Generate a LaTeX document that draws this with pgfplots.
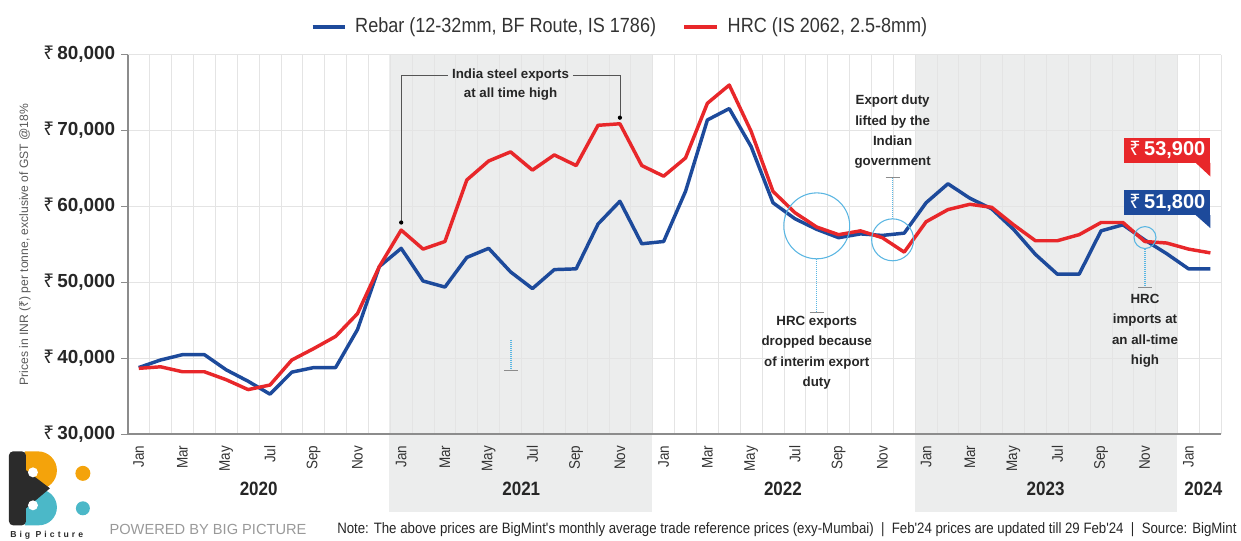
\documentclass[border=0pt]{standalone}
\usepackage{fontspec}
\setmainfont{Liberation Sans}
\newfontfamily\narrow[FakeStretch=0.88]{Liberation Sans}
\newfontfamily\rupeefont{Noto Sans}
\newcommand\Rs{{\rupeefont ₹}}
\usepackage{pgfplots}
\usepackage{pgfplotstable}
\pgfplotsset{compat=1.18}
\definecolor{rebar}{HTML}{1D4A9B}
\definecolor{hrc}{HTML}{E8272A}
\definecolor{band}{HTML}{ECEDED}
\definecolor{circ}{HTML}{5AB6E2}
\definecolor{gridc}{HTML}{E4E4E4}
\definecolor{axisc}{HTML}{8C8C8C}
\definecolor{annc}{HTML}{555555}
\definecolor{orangeL}{HTML}{F4A30B}
\definecolor{tealL}{HTML}{4BB8C8}
\definecolor{darkL}{HTML}{2B2B2B}

\pgfplotstableread{
x rebar hrc
0 38800 38700
1 39800 38900
2 40500 38250
3 40500 38250
4 38500 37200
5 37000 35900
6 35300 36500
7 38200 39800
8 38800 41300
9 38800 42900
10 43800 45900
11 52100 52100
12 54500 56900
13 50200 54400
14 49400 55400
15 53300 63500
16 54500 66000
17 51400 67200
18 49200 64800
19 51700 66800
20 51800 65400
21 57700 70700
22 60700 70900
23 55100 65400
24 55400 64000
25 62000 66400
26 71400 73600
27 72900 76000
28 67900 69900
29 60500 62000
30 58400 59200
31 57000 57300
32 55900 56300
33 56400 56800
34 56200 55900
35 56500 54000
36 60500 58000
37 63000 59600
38 61100 60300
39 59700 59900
40 57000 57600
41 53700 55500
42 51100 55500
43 51100 56300
44 56800 57900
45 57600 57900
46 55600 55400
47 53800 55200
48 51800 54400
49 51800 53900
}\datatable

\begin{document}
\begin{tikzpicture}
\begin{scope}[x=0.75pt,y=0.75pt]
\path[use as bounding box] (0,0) rectangle (1241,540);
\fill[band] (390,27) rectangle (653,485.3);
\fill[band] (915.8,27) rectangle (1178.6,485.3);
\end{scope}
\begin{axis}[
  at={(96pt,78.75pt)}, anchor=south west,
  scale only axis, width=821.25pt, height=285.2pt,
  xmin=-0.5, xmax=49.5, ymin=30000, ymax=80000,
  scaled y ticks=false,
  axis x line*=bottom, axis y line*=left,
  axis line style={axisc, line width=1.5pt},
  ytick={30000,40000,50000,60000,70000,80000},
  yticklabels={{\Rs\,30,000},{\Rs\,40,000},{\Rs\,50,000},{\Rs\,60,000},{\Rs\,70,000},{\Rs\,80,000}},
  yticklabel style={font=\fontsize{14.2}{16}\selectfont\bfseries, text=black!85, xshift=-1pt},
  ytick style={axisc, line width=1pt},
  tick align=outside, major tick length=5pt,
  ymajorgrids, grid style={gridc, line width=0.75pt},
  xtick={0,2,...,48},
  xticklabels={Jan,Mar,May,Jul,Sep,Nov,Jan,Mar,May,Jul,Sep,Nov,Jan,Mar,May,Jul,Sep,Nov,Jan,Mar,May,Jul,Sep,Nov,Jan},
  xticklabel style={rotate=90, anchor=east, font=\narrow\fontsize{11.5}{13}\selectfont, text=black!80},
  xtick style={draw=none},
  minor xtick={0.5,1.5,...,49.5}, xminorgrids,
  minor grid style={gridc, line width=0.6pt},
  minor tick length=0pt,
  clip=false,
]
\addplot[rebar, line width=2.6pt, line join=round] table[x=x,y=rebar]{\datatable};
\addplot[hrc, line width=2.6pt, line join=round] table[x=x,y=hrc]{\datatable};

% annotation 1
\draw[annc, line width=0.6pt] (axis cs:12,57900) -- (axis cs:12,77300) -- (axis cs:14.15,77300);
\draw[annc, line width=0.6pt] (axis cs:19.85,77300) -- (axis cs:22,77300) -- (axis cs:22,71700);
\fill[black] (axis cs:12,57900) circle[radius=1.6pt];
\fill[black] (axis cs:22,71700) circle[radius=1.6pt];
\node[font=\fontsize{10}{12}\selectfont\bfseries, text=black!85] at (axis cs:17,77300) {India steel exports};
\node[font=\fontsize{10}{12}\selectfont\bfseries, text=black!85] at (axis cs:17,74800) {at all time high};

\tikzset{dotl/.style={circ, line width=0.9pt, dash pattern=on 0.75pt off 0.75pt}}
% annotation 2
\draw[circ, line width=0.8pt] (axis cs:31,57460) circle[radius=24.75pt];
\draw[dotl] (axis cs:31,53100) -- (axis cs:31,46050);
\draw[axisc, line width=0.7pt] (axis cs:30.68,46050) -- (axis cs:31.32,46050);
\node[anchor=north, align=center, inner sep=0pt, font=\fontsize{10}{15.3}\selectfont\bfseries, text=black!85] at (axis cs:31,45600) {HRC exports\\dropped because\\of interim export\\duty};

% annotation 3
\draw[circ, line width=0.8pt] (axis cs:34.47,55620) circle[radius=15.75pt];
\draw[dotl] (axis cs:34.47,63780) -- (axis cs:34.47,58420);
\draw[axisc, line width=0.7pt] (axis cs:34.15,63780) -- (axis cs:34.79,63780);
\node[anchor=north, align=center, inner sep=0pt, font=\fontsize{10}{15.3}\selectfont\bfseries, text=black!85] at (axis cs:34.47,74700) {Export duty\\lifted by the\\Indian\\government};

% annotation 4
\draw[circ, line width=0.8pt] (axis cs:46.01,55920) circle[radius=8.25pt];
\draw[dotl] (axis cs:46.01,54440) -- (axis cs:46.01,49300);
\draw[axisc, line width=0.7pt] (axis cs:45.69,49300) -- (axis cs:46.33,49300);
\node[anchor=north, align=center, inner sep=0pt, font=\fontsize{10}{15.3}\selectfont\bfseries, text=black!85] at (axis cs:46.01,48500) {HRC\\imports at\\an all-time\\high};

% stray dotted mark
\draw[dotl] (axis cs:17.02,42460) -- (axis cs:17.02,38380);
\draw[axisc, line width=0.6pt] (axis cs:16.7,38380) -- (axis cs:17.34,38380);

% value boxes
\fill[hrc] (axis cs:45.05,69080) rectangle (axis cs:49.0,65710);
\fill[hrc] (axis cs:48.33,65750) -- (axis cs:49.0,65750) -- (axis cs:49.0,63950) -- cycle;
\node[text=white, font=\fontsize{15}{17}\selectfont\bfseries] at (axis cs:47.03,67400) {\Rs\,53,900};
\fill[rebar] (axis cs:45.05,62210) rectangle (axis cs:49.0,58830);
\fill[rebar] (axis cs:48.33,58870) -- (axis cs:49.0,58870) -- (axis cs:49.0,57160) -- cycle;
\node[text=white, font=\fontsize{15}{17}\selectfont\bfseries] at (axis cs:47.03,60520) {\Rs\,51,800};
\end{axis}

\begin{scope}[x=0.75pt,y=0.75pt]
% y label
\node[rotate=90, font=\fontsize{9.1}{10}\selectfont, text=black!65] at (25,295) {Prices in INR (\Rs) per tonne, exclusive of GST @18\%};

% legend
\draw[rebar, line width=2.6pt] (313,513) -- (345,513);
\node[anchor=west, font=\narrow\fontsize{15.4}{17}\selectfont, text=black!80] at (351,513) {Rebar (12-32mm, BF Route, IS 1786)};
\draw[hrc, line width=2.6pt] (685,513) -- (718,513);
\node[anchor=west, font=\narrow\fontsize{15.4}{17}\selectfont, text=black!80] at (724,513) {HRC (IS 2062, 2.5-8mm)};

% year labels
\foreach \xx/\yy in {259/2020,522/2021,784/2022,1047/2023,1205/2024}
  \node[font=\narrow\fontsize{14.5}{16}\selectfont\bfseries, text=black!85] at (\xx,50) {\yy};

% footer
\node[anchor=west, font=\fontsize{11}{12}\selectfont, text=black!40] at (105,10) {POWERED BY BIG PICTURE};
\node[anchor=west, font=\narrow\fontsize{11.3}{12}\selectfont, text=black!85] at (333,10) {Note: The above prices are BigMint's monthly average trade reference prices (exy-Mumbai) \ | \ Feb'24 prices are updated till 29 Feb'24 \ | \ Source: BigMint};

% logo
\fill[orangeL] (25,88) -- (38,88) arc[start angle=90,end angle=-90,radius=19] -- (25,50) -- cycle;
\fill[tealL] (25,50) -- (39,50) arc[start angle=90,end angle=-90,radius=18] -- (25,14) -- cycle;
\fill[darkL, rounded corners=3] (9,14) rectangle (26,88);
\fill[darkL] (25,70) -- (50,51) -- (25,30) -- cycle;
\fill[white] (33,67) circle[radius=5];
\fill[white] (33,34) circle[radius=5];
\fill[orangeL] (83,66) circle[radius=7.5];
\fill[tealL] (83,31) circle[radius=7];
\node[anchor=west, font=\fontsize{6.5}{8}\selectfont\bfseries\addfontfeatures{LetterSpace=35}, text=darkL, inner sep=0pt] at (10,4) {Big Picture};
\end{scope}
\end{tikzpicture}
\end{document}
